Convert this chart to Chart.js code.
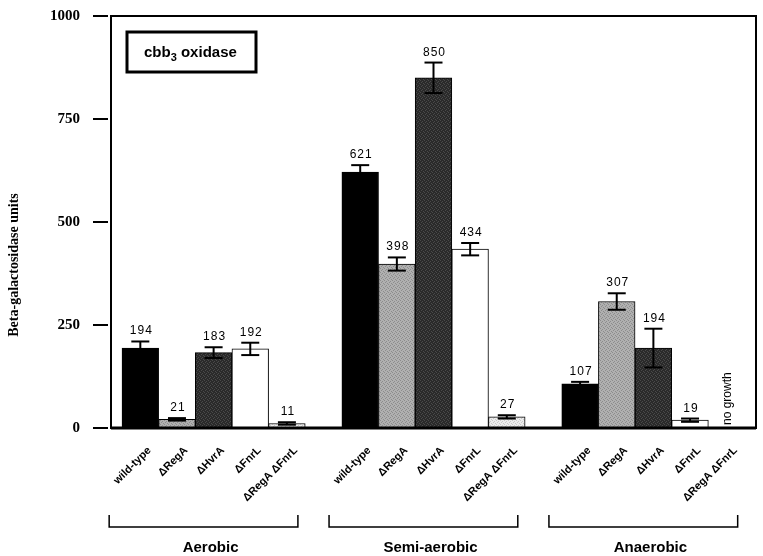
<!DOCTYPE html>
<html>
<head>
<meta charset="utf-8">
<script src="https://cdn.jsdelivr.net/npm/chart.js@4.4.0/dist/chart.umd.min.js"></script>
<style>
  html, body { margin: 0; padding: 0; background: #fff; }
</style>
</head>
<body>
<canvas id="chart" width="763" height="556"></canvas>
<script>
// --- Data ---
const groups = ['Aerobic', 'Semi-aerobic', 'Anaerobic'];
const strains = ['wild-type', 'ΔRegA', 'ΔHvrA', 'ΔFnrL', 'ΔRegA ΔFnrL'];
const aerobic = [194, 21, 183, 192, 11];
const semiAerobic = [621, 398, 850, 434, 27];
const anaerobic = [107, 307, 194, 19, null];
const aerobicErr = [16, 3, 13, 15, 3];
const semiAerobicErr = [17, 16, 37, 15, 4];
const anaerobicErr = [5, 20, 47, 4, null];
const yTicks = [0, 250, 500, 750, 1000];

const sans = '"Liberation Sans", Arial, sans-serif';
const serif = '"Liberation Serif", "Times New Roman", serif';

// small speckled fills, like the screened bars of the original print
function speckle(base, dot) {
    const c = document.createElement('canvas');
    c.width = 4; c.height = 4;
    const g = c.getContext('2d');
    g.fillStyle = base;
    g.fillRect(0, 0, 4, 4);
    g.fillStyle = dot;
    [[0, 0], [2, 1], [1, 2], [3, 3]].forEach(([px, py]) => g.fillRect(px, py, 1, 1));
    return g.createPattern(c, 'repeat');
}
const strainColors = [
    '#000000',
    speckle('#b0b0b0', '#8c8c8c'),
    speckle('#2a2a2a', '#4a4a4a'),
    '#ffffff',
    speckle('#ececec', '#c8c8c8')
];

// one slot per strain, one empty slot between groups
const values = [aerobic, semiAerobic, anaerobic];
const errors = [aerobicErr, semiAerobicErr, anaerobicErr];
const slot = strains.length + 1;
const points = [];
values.forEach((vals, g) => {
    vals.forEach((v, s) => {
        points.push({ x: g * slot + s, y: v, err: errors[g][s], strain: s });
    });
});

function line(ctx, x1, y1, x2, y2) {
    ctx.beginPath();
    ctx.moveTo(x1, y1);
    ctx.lineTo(x2, y2);
    ctx.stroke();
}

// --- Extras drawn on top: frame, error bars, labels, brackets ---
const overlay = {
    id: 'overlay',
    afterDatasetsDraw(chart) {
        const { ctx, chartArea: a, scales: { x, y } } = chart;
        ctx.save();
        ctx.strokeStyle = '#000';
        ctx.fillStyle = '#000';

        // frame
        ctx.lineWidth = 2;
        ctx.strokeRect(a.left, a.top, a.right - a.left, a.bottom - a.top);
        ctx.lineWidth = 3;
        line(ctx, a.left, a.bottom, a.right, a.bottom);

        // y tick marks, detached from the frame
        ctx.lineWidth = 2;
        yTicks.forEach(v => {
            const py = y.getPixelForValue(v);
            line(ctx, a.left - 18, py, a.left - 3, py);
        });

        // error bars and value labels
        ctx.font = '12px ' + sans;
        ctx.textAlign = 'center';
        ctx.textBaseline = 'alphabetic';
        points.forEach(p => {
            const px = x.getPixelForValue(p.x);
            if (p.y == null) {
                ctx.save();
                ctx.translate(px + 4, a.bottom - 3);
                ctx.rotate(-Math.PI / 2);
                ctx.textAlign = 'left';
                ctx.letterSpacing = '0px';
                ctx.fillText('no growth', 0, 0);
                ctx.restore();
                return;
            }
            const hi = y.getPixelForValue(p.y + p.err);
            const lo = y.getPixelForValue(p.y - p.err);
            ctx.lineWidth = 2;
            line(ctx, px, hi, px, lo);
            line(ctx, px - 9, hi, px + 9, hi);
            line(ctx, px - 9, lo, px + 9, lo);
            ctx.letterSpacing = '1px';
            ctx.fillText(String(p.y), px + 1, hi - 7);
        });

        // group brackets and names
        ctx.letterSpacing = '0px';
        ctx.font = 'bold 15px ' + sans;
        ctx.lineWidth = 1.5;
        groups.forEach((name, g) => {
            const mid = g * slot + 2;
            const l = x.getPixelForValue(mid - 2.85);
            const r = x.getPixelForValue(mid + 2.3);
            ctx.beginPath();
            ctx.moveTo(l, 515);
            ctx.lineTo(l, 527);
            ctx.lineTo(r, 527);
            ctx.lineTo(r, 515);
            ctx.stroke();
            ctx.textBaseline = 'middle';
            ctx.fillText(name, x.getPixelForValue(mid) - 3, 548);
        });

        // title box
        ctx.lineWidth = 3;
        ctx.strokeRect(127, 32, 129, 40);
        ctx.textAlign = 'left';
        ctx.textBaseline = 'alphabetic';
        ctx.font = 'bold 15px ' + sans;
        ctx.fillText('cbb', 144, 57);
        let tx = 144 + ctx.measureText('cbb').width;
        ctx.font = 'bold 11px ' + sans;
        ctx.fillText('3', tx, 61);
        tx += ctx.measureText('3').width;
        ctx.font = 'bold 15px ' + sans;
        ctx.fillText(' oxidase', tx, 57);

        // y axis title
        ctx.save();
        ctx.translate(14, 265);
        ctx.rotate(-Math.PI / 2);
        ctx.textAlign = 'center';
        ctx.textBaseline = 'middle';
        ctx.font = 'bold 14px ' + serif;
        ctx.fillText('Beta-galactosidase units', 0, 0);
        ctx.restore();

        ctx.restore();
    }
};

new Chart(document.getElementById('chart'), {
    type: 'bar',
    data: {
        datasets: [{
            data: points.map(p => ({ x: p.x, y: p.y })),
            backgroundColor: points.map(p => strainColors[p.strain]),
            borderColor: '#000',
            borderWidth: 1,
            borderSkipped: false,
            barPercentage: 1,
            categoryPercentage: 1
        }]
    },
    options: {
        responsive: false,
        animation: false,
        layout: { padding: { top: 16, right: 7, left: 0, bottom: 0 } },
        plugins: { legend: { display: false }, tooltip: { enabled: false } },
        scales: {
            x: {
                type: 'linear',
                offset: false,
                min: -0.8,
                max: 16.8,
                grid: { display: false, offset: false },
                border: { display: false },
                afterBuildTicks: s => { s.ticks = points.map(p => ({ value: p.x })); },
                afterFit: s => {
                    s.height = 128;
                    s.paddingLeft = 0;
                    s.paddingRight = 0;
                },
                ticks: {
                    autoSkip: false,
                    minRotation: 45,
                    maxRotation: 45,
                    padding: 8,
                    labelOffset: 9,
                    color: '#000',
                    font: { family: sans, size: 11, weight: 'bold' },
                    callback: v => strains[Math.round(v) % slot] || ''
                }
            },
            y: {
                min: 0,
                max: 1000,
                grid: { display: false },
                border: { display: false },
                afterBuildTicks: s => { s.ticks = yTicks.map(v => ({ value: v })); },
                afterFit: s => {
                    s.width = 111;
                    s.paddingTop = 0;
                    s.paddingBottom = 0;
                },
                ticks: {
                    padding: 23,
                    color: '#000',
                    font: { family: serif, size: 15, weight: 'bold' },
                    callback: v => String(v)
                }
            }
        }
    },
    plugins: [overlay]
});
</script>
</body>
</html>
